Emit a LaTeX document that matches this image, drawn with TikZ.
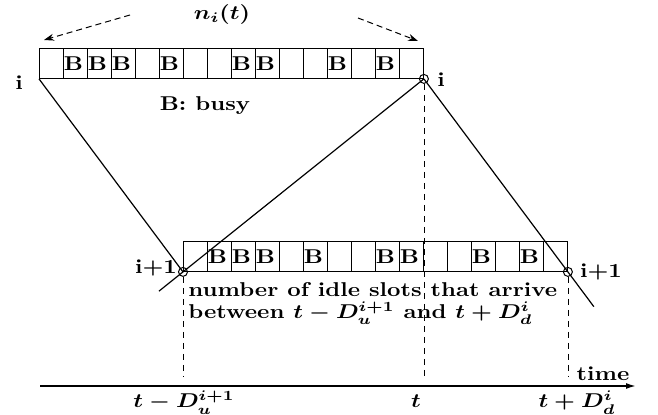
\documentclass[tikz,border=0pt]{standalone}
\usepackage{graphicx}
\usepackage{tikz}
\usetikzlibrary{arrows.meta,calc}
\newcommand{\stretchx}[1]{\scalebox{1.17}[1]{#1}}
\tikzset{
  lbl/.style={font=\fontsize{10}{11}\selectfont\bfseries\boldmath, inner sep=0pt},
  cell/.style={draw, line width=0.45pt, anchor=north west,
               minimum width=12pt, minimum height=15pt, inner sep=0pt},
  relay/.style={circle, draw, line width=0.5pt, inner sep=0pt, minimum size=4.5pt},
  link/.style={line width=0.6pt},
  guide/.style={line width=0.4pt, dash pattern=on 3pt off 2.5pt},
  hint/.style={line width=0.5pt, dash pattern=on 3pt off 2pt,
               -{Stealth[length=5pt,width=3.5pt]}},
}

\begin{document}
\begin{tikzpicture}[x=0.5pt, y=-0.5pt]
  \useasboundingbox (0,0) rectangle (658,415);
  \foreach \k in {0,...,15}{
    \node[cell] (top-\k) at ({39+24*\k},48) {};
    \node[cell] (bot-\k) at ({183+24*\k},241) {};
  }
  \foreach \k in {1,2,3,5,8,9,12,14}{
    \node[lbl, xshift=-1pt] (btop-\k) at (top-\k) {\stretchx{B}};
    \node[lbl, xshift=-1pt] (bbot-\k) at (bot-\k) {\stretchx{B}};
  }
  \node[relay] (ri) at (top-15.south east) {};
  \node[relay] (li1) at (bot-0.south west) {};
  \node[relay] (ri1) at (bot-15.south east) {};

  \coordinate (ax-l) at (40,386);
  \coordinate (ax-r) at (636,386);
  \coordinate (stop) at (0,377);
  \coordinate (hint-l) at (130,15);
  \coordinate (hint-le) at (44,40);
  \coordinate (hint-r) at (358,18);
  \coordinate (hint-re) at (418,41);

  \draw[link] (top-0.south west) -- (li1.center);
  \draw[link] (ri.center) -- ($(ri.center)!1.1!(li1.center)$);
  \draw[link] (ri.center) -- ($(ri.center)!1.18!(ri1.center)$);
  \draw[guide] (ri.south) -- (ri |- stop);
  \draw[guide] (li1.south) -- (li1 |- stop);
  \draw[guide] (ri1.south) -- (ri1 |- stop);
  \draw[line width=0.8pt, -{Latex[length=5pt,width=3pt]}] (ax-l) -- (ax-r);
  \draw[hint] (hint-l) -- (hint-le);
  \draw[hint] (hint-r) -- (hint-re);

  \node[lbl] (ni) at (222,15) {\stretchx{$n_i(t)$}};
  \node[lbl] (busy) at (205,106) {\stretchx{B: busy}};
  \node[lbl] (lab-il) at (19,83) {\stretchx{i}};
  \node[lbl] (lab-ir) at (441,80) {\stretchx{i}};
  \node[lbl] (lab-i1l) at (156,268) {\stretchx{i+1}};
  \node[lbl] (lab-i1r) at (601,272) {\stretchx{i+1}};
  \node[lbl, anchor=base west] (idle) at (188,297) {\stretchx{\begin{tabular}[t]{@{}l@{}}number of idle slots that arrive\\[-1pt]between $t-D_u^{i+1}$ and $t+D_d^i$\end{tabular}}};
  \node[lbl, anchor=base] (time) at (603,381) {\stretchx{time}};
  \node[lbl, anchor=base] (t-up) at (184,408) {\stretchx{$t-D_u^{i+1}$}};
  \node[lbl, anchor=base] (t-now) at (416,408) {\stretchx{$t$}};
  \node[lbl, anchor=base] (t-dn) at (577,408) {\stretchx{$t+D_d^i$}};
\end{tikzpicture}
\end{document}
